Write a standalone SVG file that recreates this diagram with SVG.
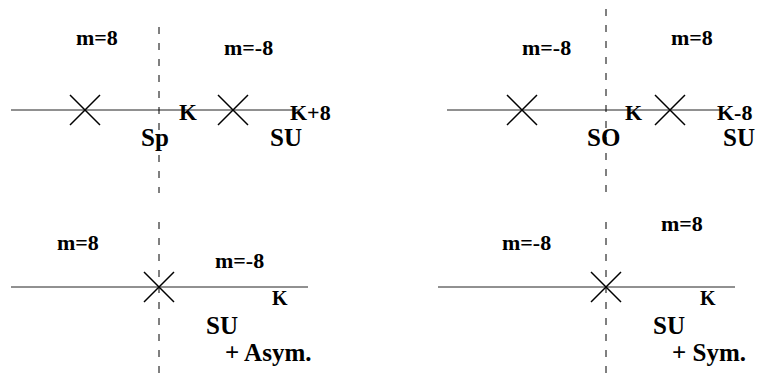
<svg xmlns="http://www.w3.org/2000/svg" width="757" height="387" viewBox="0 0 757 387">
<style>
.axis{stroke:#222;stroke-width:1;fill:none}
.dash{stroke:#000;stroke-width:1;stroke-dasharray:7 9;fill:none}
.x{stroke:#000;stroke-width:1.5;fill:none}
text{font-family:"Liberation Serif","Times New Roman",serif;font-weight:bold;fill:#000}
.m{font-size:22px}
.k{font-size:23px}
.s{font-size:25px}
</style>
<rect width="757" height="387" fill="#fff"/>
<g id="panel-top-left">
<line class="axis" x1="11" y1="110" x2="300" y2="110"/>
<line class="dash" x1="159" y1="27" x2="159" y2="193"/>
<path class="x" d="M70 95L100 125M70 125L100 95"/>
<path class="x" d="M218 95L248 125M218 125L248 95"/>
<text class="m" x="76" y="45">m=8</text>
<text class="m" x="224" y="55">m=-8</text>
<text class="k" x="179" y="120">K</text>
<text class="k" x="290" y="120" style="font-size:22px">K+8</text>
<text class="s" x="141" y="146">Sp</text>
<text class="s" x="270" y="146">SU</text>
</g>
<g id="panel-top-right">
<line class="axis" x1="447" y1="110" x2="722" y2="110"/>
<line class="dash" x1="606" y1="9" x2="606" y2="193"/>
<path class="x" d="M507 95L537 125M507 125L537 95"/>
<path class="x" d="M655 95L685 125M655 125L685 95"/>
<text class="m" x="522" y="55">m=-8</text>
<text class="m" x="671" y="45">m=8</text>
<text class="k" x="625" y="120" style="font-size:22px">K</text>
<text class="k" x="717" y="120" style="font-size:22px">K-8</text>
<text class="s" x="587" y="146">SO</text>
<text class="s" x="723" y="146">SU</text>
</g>
<g id="panel-bottom-left">
<line class="axis" x1="11" y1="287" x2="308" y2="287"/>
<line class="dash" x1="159" y1="222" x2="159" y2="378"/>
<path class="x" d="M144 272L174 302M144 302L174 272"/>
<text class="m" x="57" y="250">m=8</text>
<text class="m" x="215" y="268">m=-8</text>
<text x="272" y="305" style="font-size:20px">K</text>
<text class="s" x="206" y="334">SU</text>
<text class="s" x="225" y="361">+ Asym.</text>
</g>
<g id="panel-bottom-right">
<line class="axis" x1="438" y1="287" x2="735" y2="287"/>
<line class="dash" x1="606" y1="222" x2="606" y2="378"/>
<path class="x" d="M591 272L621 302M591 302L621 272"/>
<text class="m" x="502" y="250">m=-8</text>
<text class="m" x="661" y="231">m=8</text>
<text x="700" y="305" style="font-size:20px">K</text>
<text class="s" x="653" y="334">SU</text>
<text class="s" x="672" y="361">+ Sym.</text>
</g>
</svg>
